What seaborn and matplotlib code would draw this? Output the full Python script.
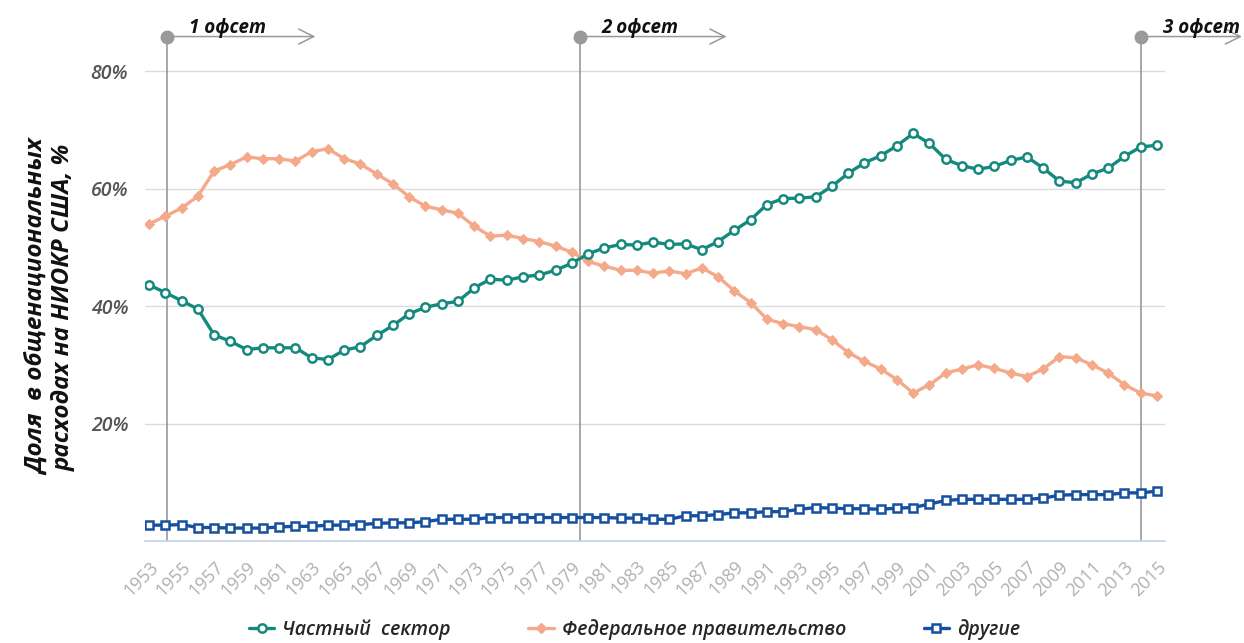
import numpy as np
import pandas as pd
import matplotlib
matplotlib.use("Agg")
import matplotlib.pyplot as plt
import seaborn as sns
from matplotlib.lines import Line2D

years = list(range(1953, 2016))

private = [43.6, 42.3, 40.9, 39.5, 35.1, 34.0, 32.6, 32.9, 32.9, 32.9,
           31.2, 30.9, 32.5, 33.1, 35.0, 36.7, 38.7, 39.8, 40.4, 40.8,
           43.1, 44.6, 44.4, 45.0, 45.3, 46.1, 47.3, 48.9, 49.9, 50.5,
           50.4, 50.9, 50.5, 50.6, 49.6, 51.0, 52.9, 54.7, 57.3, 58.3,
           58.4, 58.6, 60.4, 62.6, 64.4, 65.6, 67.3, 69.4, 67.7, 65.0,
           63.9, 63.3, 63.8, 64.8, 65.4, 63.5, 61.3, 61.0, 62.5, 63.5,
           65.5, 67.1, 67.4]

federal = [54.0, 55.3, 56.7, 58.7, 63.0, 64.1, 65.4, 65.1, 65.1, 64.7,
           66.3, 66.8, 65.1, 64.2, 62.5, 60.8, 58.6, 57.0, 56.4, 55.8,
           53.6, 51.9, 52.1, 51.5, 51.0, 50.2, 49.2, 47.6, 46.8, 46.1,
           46.1, 45.6, 46.0, 45.5, 46.5, 45.0, 42.6, 40.6, 37.8, 37.0,
           36.5, 36.0, 34.3, 32.1, 30.6, 29.3, 27.5, 25.2, 26.6, 28.6,
           29.3, 30.0, 29.4, 28.6, 28.0, 29.3, 31.4, 31.2, 30.0, 28.6,
           26.6, 25.2, 24.7]

other = [2.7, 2.7, 2.8, 2.3, 2.3, 2.2, 2.2, 2.2, 2.4, 2.5,
         2.5, 2.7, 2.7, 2.8, 3.0, 3.1, 3.1, 3.3, 3.7, 3.7,
         3.7, 4.0, 4.0, 4.0, 4.0, 4.0, 4.0, 4.0, 4.0, 3.9,
         3.9, 3.7, 3.7, 4.3, 4.3, 4.5, 4.8, 4.8, 5.0, 5.0,
         5.4, 5.7, 5.6, 5.5, 5.5, 5.4, 5.6, 5.7, 6.3, 6.9,
         7.1, 7.1, 7.1, 7.1, 7.1, 7.3, 7.8, 7.9, 7.9, 7.9,
         8.2, 8.2, 8.5]

series_names = ["Частный  сектор", "Федеральное правительство", "другие"]
y_ticks = [20, 40, 60, 80]
y_tick_labels = ["20%", "40%", "60%", "80%"]
offset_years = [1954.1, 1979.5, 2014.0]
offset_labels = ["1 офсет", "2 офсет", "3 офсет"]
y_label = "Доля  в общенациональных\nрасходах на НИОКР США, %"

df = pd.DataFrame({"year": years, "private": private,
                   "federal": federal, "other": other})

sns.set_theme(style="white")
plt.rcParams['font.family'] = ['Open Sans', 'DejaVu Sans']

teal = "#14897d"
salmon = "#f4a98a"
blue = "#17509e"

fig = plt.figure(figsize=(12.44, 6.43), dpi=100)
ax = fig.add_axes([0.1166, 0.1586, 0.82, 0.822])

sns.lineplot(data=df, x="year", y="private", ax=ax, color=teal, lw=2.4,
             marker="o", markersize=6, markerfacecolor="white",
             markeredgecolor=teal, markeredgewidth=1.8, zorder=4)
sns.lineplot(data=df, x="year", y="federal", ax=ax, color=salmon, lw=2.4,
             marker="D", markersize=5, markerfacecolor=salmon,
             markeredgecolor=salmon, zorder=3)
sns.lineplot(data=df, x="year", y="other", ax=ax, color=blue, lw=2.4,
             marker="s", markersize=6, markerfacecolor="white",
             markeredgecolor=blue, markeredgewidth=1.8, zorder=4)

ax.set_xlim(1952.75, 2015.5)
ax.set_ylim(0, 90)

ax.set_yticks(y_ticks)
ax.set_yticklabels(y_tick_labels, fontsize=14, color="#555555",
                   fontstyle="italic", fontweight="semibold")
ax.yaxis.grid(True, color="#dcdcdc", lw=1.0)
ax.xaxis.grid(False)
ax.tick_params(axis="y", length=0, pad=12)

odd_years = [y for y in years if y % 2 == 1]
ax.set_xticks(odd_years)
ax.set_xticklabels([str(y) for y in odd_years], rotation=45, ha="right",
                   rotation_mode="anchor", fontsize=13, color="#b0b0b0")
ax.tick_params(axis="x", length=11, color="#c5d3e8", width=1, pad=1)

for s in ["top", "right", "left"]:
    ax.spines[s].set_visible(False)
ax.spines["bottom"].set_color("#c5d3e8")
ax.spines["bottom"].set_linewidth(1.2)

ax.set_xlabel("")
ax.set_ylabel("")
fig.text(0.041, 0.522, y_label, rotation=90, ha="center", va="center",
         fontsize=17.5, fontstyle="italic", fontweight="bold",
         color="#111111", linespacing=1.05, multialignment="center")

# offsets
top_y = 85.9
arrow_ends = [1963.4, 1988.7, 2020.4]
for xo, xe, lab in zip(offset_years, arrow_ends, offset_labels):
    ax.plot([xo, xo], [0, top_y], color="#999999", lw=1.2, zorder=2,
            clip_on=False)
    ax.plot([xo], [top_y], marker="o", markersize=9, color="#9a9a9a",
            zorder=5, clip_on=False)
    ax.annotate("", xy=(xe, top_y), xytext=(xo, top_y),
                arrowprops=dict(arrowstyle="->,head_length=0.9,head_width=0.45",
                                color="#999999", lw=1.1),
                annotation_clip=False)
    ax.text(xo + 1.35, top_y - 0.2, lab, fontsize=13.5, fontstyle="italic",
            fontweight="bold", color="#111111", ha="left", va="bottom",
            clip_on=False)

handles = [
    Line2D([], [], color=teal, lw=2.4, marker="o", markersize=6,
           markerfacecolor="white", markeredgecolor=teal, markeredgewidth=1.8),
    Line2D([], [], color=salmon, lw=2.4, marker="D", markersize=5,
           markerfacecolor=salmon, markeredgecolor=salmon),
    Line2D([], [], color=blue, lw=2.4, marker="s", markersize=6,
           markerfacecolor="white", markeredgecolor=blue, markeredgewidth=1.8),
]
fig.legend(handles, series_names, loc="lower center", ncol=3,
           bbox_to_anchor=(0.51, -0.022), frameon=False, handlelength=1.3,
           handletextpad=0.4, columnspacing=4.0,
           prop=dict(family=["Open Sans", "DejaVu Sans"], style="italic",
                     weight="semibold", size=14))

fig.savefig("out.png", dpi=100)
